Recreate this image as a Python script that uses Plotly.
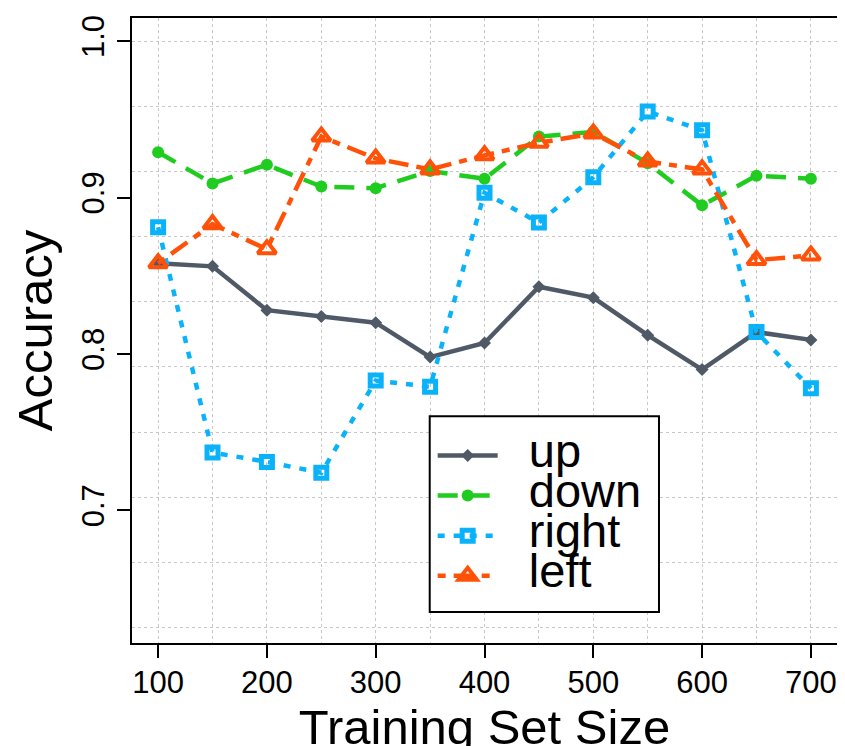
import numpy as np
import plotly.graph_objects as go

# ---------------- data ----------------
train_sizes = [100, 150, 200, 250, 300, 350, 400, 450, 500, 550, 600, 650, 700]
acc_up    = [0.858, 0.856, 0.828, 0.824, 0.820, 0.798, 0.807, 0.843, 0.836, 0.812, 0.790, 0.814, 0.809]
acc_down  = [0.929, 0.909, 0.921, 0.907, 0.906, 0.917, 0.912, 0.939, 0.942, 0.922, 0.895, 0.914, 0.912]
acc_right = [0.881, 0.737, 0.731, 0.724, 0.783, 0.779, 0.903, 0.884, 0.913, 0.955, 0.943, 0.814, 0.778]
acc_left  = [0.858, 0.883, 0.867, 0.939, 0.925, 0.918, 0.927, 0.935, 0.941, 0.923, 0.918, 0.860, 0.863]
series_names = ["up", "down", "right", "left"]

x_tick_vals = [100, 200, 300, 400, 500, 600, 700]
x_tick_text = ["100", "200", "300", "400", "500", "600", "700"]
y_tick_vals = [0.7, 0.8, 0.9, 1.0]
y_tick_text = ["0.7", "0.8", "0.9", "1.0"]

FONT = "Liberation Sans, Arial, Helvetica, sans-serif"
GRID = "#c8c8c8"

styles = {
    "up":    dict(color="#4f5a66", dash="solid", symbol="diamond", size=10, mlw=0),
    "down":  dict(color="#1fcc1f", dash="20px,12px", symbol="circle", size=12, mlw=0),
    "right": dict(color="#0ab2fa", dash="7px,9px", symbol="square-open", size=11, mlw=5),
    "left":  dict(color="#ff5208", dash="8px,8px,20px,8px", symbol="triangle-up-open", size=16, mlw=4),
}
series_vals = {"up": acc_up, "down": acc_down, "right": acc_right, "left": acc_left}

fig = go.Figure()
for name in series_names:
    s = styles[name]
    fig.add_trace(go.Scatter(
        x=train_sizes, y=series_vals[name], mode="lines+markers",
        name='<span style="font-size:47px">\u00a0\u00a0' + name + "</span>",
        line=dict(color=s["color"], width=4.5, dash=s["dash"]),
        marker=dict(symbol=s["symbol"], size=s["size"], color=s["color"],
                    line=dict(color=s["color"], width=s["mlw"])),
    ))

# empty helper trace so the grid-only overlay axis gets drawn
fig.add_trace(go.Scatter(x=[], y=[], yaxis="y2", showlegend=False, hoverinfo="skip"))

y_range = [0.6152, 1.0148]
y_grid = list(np.linspace(0.625, 1.0, 10))

# the page body adds an 8px offset, so margins are shifted to compensate
fig.update_layout(
    width=845, height=746,
    margin=dict(l=124, r=16, t=10, b=111, autoexpand=False),
    paper_bgcolor="white", plot_bgcolor="white",
    font=dict(family=FONT, color="black"),
    showlegend=True,
    legend=dict(
        x=0.4265, y=0.34, xanchor="left", yanchor="top",
        bgcolor="rgba(0,0,0,0)", borderwidth=0,
        font=dict(family=FONT, size=28.5, color="black"),
        itemwidth=60, tracegroupgap=0,
    ),
    xaxis=dict(
        range=[76, 724], tickmode="array", tickvals=x_tick_vals, ticktext=x_tick_text,
        ticks="outside", ticklen=13, tickwidth=2, tickcolor="black",
        tickfont=dict(size=31), ticklabelstandoff=-2, automargin=False,
        showline=True, linecolor="black", linewidth=2, mirror=True,
        showgrid=True, gridcolor=GRID, gridwidth=1, griddash="dot",
        minor=dict(tickmode="array", tickvals=train_sizes, showgrid=True,
                   gridcolor=GRID, gridwidth=1, griddash="dot", ticks=""),
        zeroline=False,
        title=dict(text="Training Set Size", font=dict(size=49), standoff=22),
    ),
    yaxis=dict(
        range=y_range, tickmode="array", tickvals=y_tick_vals, ticktext=y_tick_text,
        tickangle=-90, ticks="outside", ticklen=13, tickwidth=2, tickcolor="black",
        tickfont=dict(size=31), ticklabelstandoff=1, automargin=False,
        showline=True, linecolor="black", linewidth=2, mirror=True,
        showgrid=False, zeroline=False,
        title=dict(text="Accuracy", font=dict(size=49), standoff=12),
    ),
    yaxis2=dict(
        range=y_range, overlaying="y", side="left", anchor="x", automargin=False,
        tickmode="array", tickvals=y_grid, showticklabels=False, ticks="",
        showgrid=True, gridcolor=GRID, gridwidth=1, griddash="dot",
        showline=False, zeroline=False,
    ),
    shapes=[dict(
        type="rect", xref="paper", yref="paper",
        x0=0.4223, x1=0.7475, y0=0.0496, y1=0.3627,
        line=dict(color="black", width=2), fillcolor="white", layer="above",
    )],
)

fig.write_html("out.html")
